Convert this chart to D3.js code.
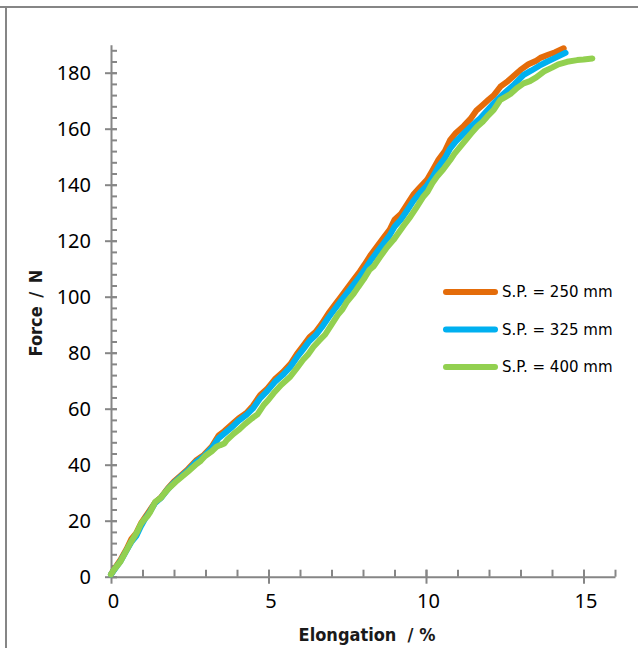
<!DOCTYPE html>
<html>
<head>
<meta charset="utf-8">
<script src="https://cdn.jsdelivr.net/npm/d3@7"></script>
<style>
  html, body { margin: 0; padding: 0; background: #fff; }
  svg { display: block; }
</style>
</head>
<body>
<svg id="chart" width="638" height="648"></svg>
<script>
// Tensile test curves: force vs. elongation for three specimen lengths (S.P.)
const seriesNames = ["S.P. = 250 mm", "S.P. = 325 mm", "S.P. = 400 mm"];
const seriesColors = ["#E46C0A", "#00B0F0", "#92D050"];

const sp250 = [
  [0,0.8],[0.15,3.5],[0.3,6],[0.5,10],[0.65,13.5],[0.8,15.5],[0.95,19],[1.1,21.5],
  [1.25,24],[1.4,26.5],[1.6,28.5],[1.8,31.5],[2.0,34],[2.2,36],[2.45,38.5],[2.7,41.5],
  [2.95,43.5],[3.2,46.5],[3.42,50.5],[3.6,52],[3.85,54.5],[4.05,56.5],[4.3,58.5],[4.5,61],
  [4.74,64.9],[4.95,67],[5.2,70.5],[5.45,73],[5.7,76],[5.9,79.5],[6.1,82.5],[6.3,85.5],
  [6.5,87.5],[6.7,90.5],[6.9,94],[7.1,97],[7.3,100],[7.5,103],[7.7,106],[7.9,109],
  [8.05,111.5],[8.25,115],[8.45,118],[8.65,121],[8.85,124],[9.0,127.5],[9.2,129.5],[9.4,133],
  [9.6,136.5],[9.8,139],[10.03,141.7],[10.2,145],[10.4,149],[10.6,152],[10.77,156],[10.95,158.5],
  [11.2,161],[11.41,163.5],[11.6,166.5],[11.8,168.5],[12.0,170.5],[12.15,171.9],[12.36,175],[12.6,177],
  [12.8,179],[13.0,181],[13.25,183],[13.5,184.3],[13.63,185.3],[13.9,186.5],[14.1,187.3],[14.37,188.7]
];

const sp325 = [
  [0,0.8],[0.15,3.2],[0.3,5.5],[0.5,9.5],[0.65,12.5],[0.8,14.5],[0.95,18],[1.1,21],
  [1.25,23.5],[1.4,26.3],[1.6,28.3],[1.8,31.2],[2.0,33.6],[2.2,35.6],[2.45,38],[2.7,41],
  [2.95,43],[3.2,46],[3.42,49.5],[3.6,51.2],[3.85,53.5],[4.05,55.7],[4.3,57.8],[4.5,60],
  [4.74,63.8],[4.95,66.2],[5.2,69.5],[5.45,72],[5.7,75],[5.9,78.3],[6.1,81.2],[6.3,84.2],
  [6.5,86.3],[6.7,89.2],[6.9,92.5],[7.1,95.5],[7.3,98.5],[7.5,101.4],[7.7,104.3],[7.9,107.2],
  [8.05,109.6],[8.25,113],[8.45,116],[8.65,119],[8.85,122],[9.0,125],[9.2,127.5],[9.4,130.8],
  [9.6,134.2],[9.8,137],[10.03,139.7],[10.2,142.5],[10.4,146.5],[10.6,149.5],[10.77,153],[10.95,155.5],
  [11.2,158.3],[11.41,160.6],[11.73,163.8],[11.9,166],[12.1,168.5],[12.36,171.4],[12.6,173.8],[12.8,175.8],
  [13.1,179.2],[13.35,180.8],[13.6,182.5],[13.84,183.9],[14.1,185.3],[14.43,187.1]
];

const sp400 = [
  [0,0.8],[0.1,2.5],[0.3,5.4],[0.45,8.5],[0.61,11.9],[0.75,14.5],[0.83,16],[0.95,18.8],
  [1.04,20.2],[1.15,21.5],[1.25,23.2],[1.41,26.8],[1.57,28],[1.7,29.8],[1.83,31.5],[2.05,33.8],
  [2.25,35.7],[2.45,37.6],[2.68,39.9],[2.85,41.4],[2.99,43.1],[3.2,44.8],[3.35,46.4],[3.47,47],
  [3.6,47.6],[3.68,48.8],[3.89,51],[4.05,52.4],[4.25,54.5],[4.47,56.5],[4.65,58],[4.84,61.2],
  [5.0,63.2],[5.16,65.5],[5.4,68.5],[5.69,71.4],[5.9,74.5],[6.1,77.5],[6.25,79.3],[6.43,82.1],
  [6.6,84.2],[6.8,86.5],[6.96,89.3],[7.2,93.5],[7.35,95.5],[7.49,98.2],[7.7,101],[7.85,103.5],
  [8.02,106.2],[8.2,109.5],[8.35,111],[8.55,114.3],[8.75,117.5],[8.97,120.3],[9.08,122],[9.3,125.5],
  [9.5,128.5],[9.71,132.1],[9.9,135.5],[10.05,137.5],[10.2,140.5],[10.35,142.9],[10.55,145.5],[10.77,148.8],
  [10.9,151],[11.09,153.6],[11.3,156.5],[11.45,158.5],[11.62,160.7],[11.8,162.5],[11.94,164.3],[12.15,166.7],
  [12.36,170.3],[12.5,171.2],[12.68,172.4],[12.9,174.6],[13.1,176.2],[13.3,177],[13.5,178.3],[13.74,180.4],
  [14.0,181.8],[14.2,183],[14.48,183.9],[14.8,184.5],[15.0,184.7],[15.28,185.1]
];

const seriesData = [sp250, sp325, sp400];

const xTicks = [0, 5, 10, 15];
const xMinorTicks = d3.range(0, 17, 1);
const yTicks = [0, 20, 40, 60, 80, 100, 120, 140, 160, 180];
const yMinorTicks = d3.range(0, 190, 4);

const xTitle = "Elongation\u00a0\u00a0/ %";
const yTitle = "Force / N";

const svg = d3.select("#chart");
const axisColor = "#868686";
const tickFont = "'Noto Sans', sans-serif";
const titleFont = "'DejaVu Sans Condensed', 'DejaVu Sans', sans-serif";
const legendFont = "'DejaVu Sans', sans-serif";

// outer frame
svg.append("line").attr("x1", 0).attr("x2", 638).attr("y1", 7).attr("y2", 7)
  .attr("stroke", axisColor).attr("stroke-width", 2);
svg.append("line").attr("x1", 6).attr("x2", 6).attr("y1", 7).attr("y2", 648)
  .attr("stroke", axisColor).attr("stroke-width", 2);

const x = d3.scaleLinear().domain([0, 16]).range([111, 615]);
const y = d3.scaleLinear().domain([0, 190]).range([576.7, 44.7]);

// minor ticks (inside the plot)
const xMinor = svg.append("g").attr("transform", `translate(0,${y(0)})`)
  .call(d3.axisTop(x).tickValues(xMinorTicks).tickSize(7).tickFormat(""));
const yMinor = svg.append("g").attr("transform", `translate(${x(0)},0)`)
  .call(d3.axisRight(y).tickValues(yMinorTicks).tickSize(6).tickFormat(""));
[xMinor, yMinor].forEach(g => {
  g.select(".domain").remove();
  g.selectAll("line").attr("stroke", axisColor).attr("stroke-width", 2);
});

// major axes: ticks crossing the axis line
const xAxis = svg.append("g").attr("transform", `translate(0,${y(0)})`)
  .call(d3.axisBottom(x).tickValues(xTicks).tickSize(7).tickSizeOuter(0).tickPadding(10));
xAxis.selectAll(".tick line").attr("y1", -7);
xAxis.selectAll(".tick text").attr("dx", 2);
const yAxis = svg.append("g").attr("transform", `translate(${x(0)},0)`)
  .call(d3.axisLeft(y).tickValues(yTicks).tickSize(6).tickSizeOuter(0).tickPadding(14));
yAxis.selectAll(".tick line").attr("x1", 6);

[xAxis, yAxis].forEach(g => {
  g.select(".domain").attr("stroke", axisColor).attr("stroke-width", 2);
  g.selectAll(".tick line").attr("stroke", axisColor).attr("stroke-width", 2);
  g.selectAll("text").attr("fill", "#000").style("font-family", tickFont).style("font-size", "20px");
});

// axis titles
svg.append("text").attr("x", 367).attr("y", 641).attr("text-anchor", "middle")
  .style("font-family", titleFont).style("font-weight", "bold").style("font-size", "18px")
  .attr("fill", "#1a1a1a").text(xTitle);
svg.append("text").attr("transform", "translate(42,313) rotate(-90)").attr("text-anchor", "middle")
  .style("font-family", titleFont).style("font-weight", "bold").style("font-size", "18px")
  .style("word-spacing", "3px")
  .attr("fill", "#1a1a1a").text(yTitle);

// curves
const line = d3.line().x(d => x(d[0])).y(d => y(d[1]));
svg.append("g").selectAll("path").data(seriesData).join("path")
  .attr("d", line).attr("fill", "none")
  .attr("stroke", (d, i) => seriesColors[i]).attr("stroke-width", 6)
  .attr("stroke-linejoin", "round").attr("stroke-linecap", "round");

// legend
const legend = svg.append("g").selectAll("g").data(seriesNames).join("g")
  .attr("transform", (d, i) => `translate(446,${292 + i * 37.5})`);
legend.append("line").attr("x1", 0).attr("x2", 49).attr("y1", 0).attr("y2", 0)
  .attr("stroke", (d, i) => seriesColors[i]).attr("stroke-width", 6).attr("stroke-linecap", "round");
legend.append("text").attr("x", 56).attr("y", 0).attr("dy", "0.36em")
  .style("font-family", legendFont).style("font-size", "15px").attr("fill", "#000")
  .text(d => d);
</script>
</body>
</html>
